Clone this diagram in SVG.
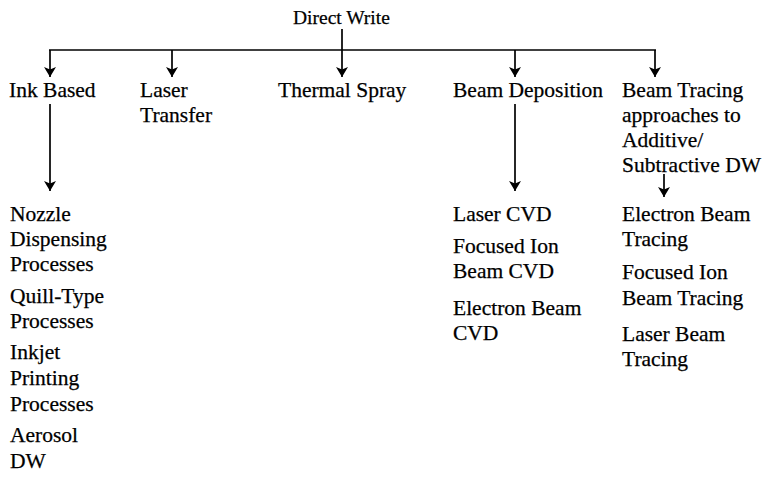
<svg xmlns="http://www.w3.org/2000/svg" width="766" height="485" viewBox="0 0 766 485">
<defs>
<marker id="ah" viewBox="0 0 10 12" refX="10" refY="6" markerWidth="10" markerHeight="12" markerUnits="userSpaceOnUse" orient="auto">
<path d="M0,0 L10,6 L0,12 L2.5,6 z" fill="#000"/>
</marker>
<style>
text{font-family:"Liberation Serif","Times New Roman",serif;fill:#000;stroke:#000;stroke-width:0.25}
.t{font-size:21.5px}
.h{font-size:19.5px}
.s{font-size:21.5px}
.c line{stroke:#000;stroke-width:1.7;fill:none}
.c .a{marker-end:url(#ah)}
</style>
</defs>
<rect width="766" height="485" fill="#fff"/>
<g class="c" id="connectors">
<line x1="342" y1="29" x2="342" y2="50"/>
<line x1="49" y1="50" x2="656" y2="50"/>
<line class="a" x1="50" y1="50" x2="50" y2="77"/>
<line class="a" x1="172" y1="50" x2="172" y2="77"/>
<line class="a" x1="342" y1="50" x2="342" y2="77"/>
<line class="a" x1="515" y1="50" x2="515" y2="77"/>
<line class="a" x1="655" y1="50" x2="655" y2="77"/>
<line class="a" x1="50" y1="104" x2="50" y2="191"/>
<line class="a" x1="515" y1="104" x2="515" y2="191"/>
<line class="a" x1="664" y1="174" x2="664" y2="197"/>
</g>
<g id="direct-write"><text class="h" x="293" y="24">Direct Write</text></g>
<g id="ink-based"><text class="t" x="9" y="97">Ink Based</text></g>
<g id="laser-transfer"><text class="t" x="140" y="97">Laser</text><text class="t" x="140" y="122">Transfer</text></g>
<g id="thermal-spray"><text class="t" x="278" y="97">Thermal Spray</text></g>
<g id="beam-deposition"><text class="t" x="453" y="97">Beam Deposition</text></g>
<g id="beam-tracing"><text class="t" x="622" y="97">Beam Tracing</text><text class="t" x="622" y="122">approaches to</text><text class="t" x="622" y="147">Additive/</text><text class="t" x="622" y="172">Subtractive DW</text></g>
<g id="nozzle"><text class="s" x="10" y="221">Nozzle</text><text class="s" x="10" y="246">Dispensing</text><text class="s" x="10" y="271">Processes</text></g>
<g id="quill"><text class="s" x="10" y="303">Quill-Type</text><text class="s" x="10" y="328">Processes</text></g>
<g id="inkjet"><text class="s" x="10" y="359">Inkjet</text><text class="s" x="10" y="385">Printing</text><text class="s" x="10" y="411">Processes</text></g>
<g id="aerosol"><text class="s" x="10" y="442">Aerosol</text><text class="s" x="10" y="468">DW</text></g>
<g id="laser-cvd"><text class="s" x="453" y="221">Laser CVD</text></g>
<g id="fib-cvd"><text class="s" x="453" y="253">Focused Ion</text><text class="s" x="453" y="278">Beam CVD</text></g>
<g id="eb-cvd"><text class="s" x="453" y="315">Electron Beam</text><text class="s" x="453" y="340">CVD</text></g>
<g id="eb-tracing"><text class="s" x="622" y="221">Electron Beam</text><text class="s" x="622" y="246">Tracing</text></g>
<g id="fib-tracing"><text class="s" x="622" y="279">Focused Ion</text><text class="s" x="622" y="305">Beam Tracing</text></g>
<g id="lb-tracing"><text class="s" x="622" y="341">Laser Beam</text><text class="s" x="622" y="366">Tracing</text></g>
</svg>
